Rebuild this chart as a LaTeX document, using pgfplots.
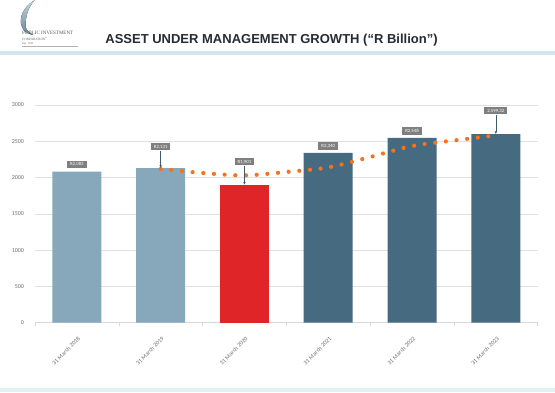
\documentclass[border=0pt]{standalone}
\usepackage{pgfplots}
\pgfplotsset{compat=1.18}
\usepackage{fontspec}
\setmainfont{Carlito}
\newfontfamily\arialfont{Liberation Sans}
\newfontfamily\seriffont{Liberation Serif}
\usetikzlibrary{arrows.meta}
\definecolor{lightbar}{HTML}{87A7BB}
\definecolor{darkbar}{HTML}{466A80}
\definecolor{redbar}{HTML}{E02528}
\definecolor{orangedot}{HTML}{F5731E}
\definecolor{labgray}{HTML}{7F7F7F}
\definecolor{arrowcol}{HTML}{3E5A6E}
\definecolor{titlecol}{HTML}{262C34}
\definecolor{bandblue}{HTML}{D3E4EC}
\definecolor{bandcyan}{HTML}{E4F1F3}
\definecolor{ticktext}{HTML}{6E6E6E}
\begin{document}
\begin{tikzpicture}[x=1pt,y=1pt]
\path[use as bounding box] (0,0) rectangle (555,392);
\fill[white] (0,0) rectangle (555,392);
% header bands
\fill[bandblue] (0,392-55) rectangle (555,392-51);
\fill[bandcyan] (0,0) rectangle (555,4);
% logo
\fill[top color=lightbar!50, bottom color=darkbar!80]
  (35,392) .. controls (24,392-6) and (18,392-18) .. (22,392-27)
  .. controls (24,392-32) and (29,392-34) .. (33,392-35)
  .. controls (28,392-32) and (25,392-29) .. (25.5,392-24)
  .. controls (26,392-14) and (29,392-6) .. cycle;
\node[anchor=west, inner sep=0pt, text=black!65, font=\seriffont\fontsize{5}{5}\selectfont] at (22,392-33) {PUBLIC INVESTMENT};
\node[anchor=west, inner sep=0pt, text=black!60, font=\seriffont\fontsize{3.3}{3.5}\selectfont] at (22,392-38.8) {CORPORATION\textsuperscript{®}};
\node[anchor=west, inner sep=0pt, text=black!60, font=\seriffont\fontsize{3}{3}\selectfont] at (22,392-43.3) {Est. 1911};
\draw[black!30, line width=0.3pt] (22,392-46.5) -- (78,392-46.5);
% title
\node[font=\arialfont\bfseries\fontsize{13}{15}\selectfont, text=titlecol] at (271.5,392-40) {ASSET UNDER MANAGEMENT GROWTH (“R Billion”)};
\begin{axis}[
  at={(35pt,69.3pt)}, anchor=south west,
  scale only axis, width=502.7pt, height=217.7pt,
  xmin=-0.5, xmax=5.5, ymin=0, ymax=3000,
  axis x line*=bottom, axis y line*=left,
  y axis line style={draw=none},
  x axis line style={black!15, line width=0.6pt, -},
  xtick={0,...,5},
  xticklabels={31 March 2018,31 March 2019,31 March 2020,31 March 2021,31 March 2022,31 March 2023},
  major x tick style={draw=none},
  major y tick style={draw=none},
  minor xtick={-0.5,0.5,...,5.5},
  minor x tick style={black!15, line width=0.5pt},
  minor tick length=3pt, tick align=outside,
  xticklabel style={rotate=45, anchor=north east, inner sep=0pt, font=\fontsize{6}{6}\selectfont, text=ticktext, yshift=-7pt, xshift=-6pt},
  ytick={0,500,...,3000},
  yticklabel style={anchor=east, inner sep=0pt, font=\fontsize{6}{6}\selectfont, text=ticktext, xshift=-6.5pt},
  /pgf/number format/assume math mode=true,
  /pgf/number format/1000 sep={},
  ymajorgrids, major grid style={black!12, line width=0.6pt},
  clip=false,
]
\addplot[ybar, bar width=49pt, bar shift=0pt, fill=lightbar, draw=none] coordinates {(0,2083) (1,2131)};
\addplot[ybar, bar width=49pt, bar shift=0pt, fill=redbar, draw=none] coordinates {(2,1901)};
\addplot[ybar, bar width=49pt, bar shift=0pt, fill=darkbar, draw=none] coordinates {(3,2340) (4,2548) (5,2599.32)};
\addplot[orangedot, line width=4.2pt, line cap=round, dash pattern=on 0pt off 10.7pt, smooth, tension=0.5] coordinates {(1,2118) (1.5,2063) (2,2030) (2.5,2077) (3,2140) (3.5,2283) (4,2435) (4.5,2511) (5,2580)};
\tikzset{lab/.style={fill=labgray, text=white, font=\fontsize{4.8}{5}\selectfont, inner xsep=3pt, inner ysep=1.8pt}}
\node[lab] at (axis cs:0,2083) [yshift=7pt] {R2,083};
\node[lab] (l2) at (axis cs:1,2131) [yshift=21.3pt] {R2,131};
\node[lab] (l3) at (axis cs:2,1901) [yshift=23pt] {R1,901};
\node[lab] at (axis cs:3,2340) [yshift=7pt] {R2,340};
\node[lab] at (axis cs:4,2548) [yshift=7pt] {R2,548};
\node[lab] (l6) at (axis cs:5,2599.32) [yshift=23.3pt] {2,599.32};
\draw[arrowcol, line width=0.6pt, -{Latex[length=2.6pt,width=2.6pt]}] (l2.south) -- (axis cs:1,2131);
\draw[arrowcol, line width=0.6pt, -{Latex[length=2.6pt,width=2.6pt]}] (l3.south) -- (axis cs:2,1901);
\draw[arrowcol, line width=0.6pt, -{Latex[length=2.6pt,width=2.6pt]}] (l6.south) -- (axis cs:5,2599.32);
\end{axis}
\end{tikzpicture}
\end{document}
